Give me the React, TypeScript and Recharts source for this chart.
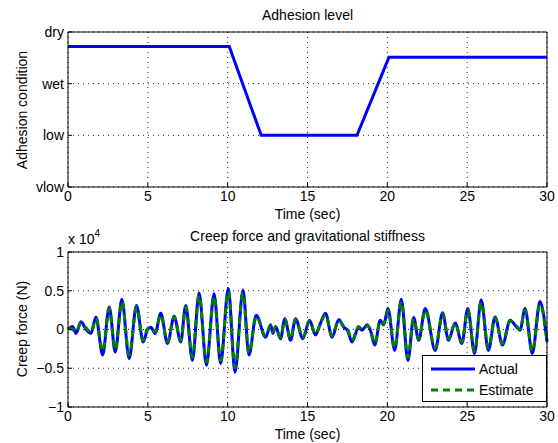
import React from 'react';
import { LineChart, Line, XAxis, YAxis, CartesianGrid } from 'recharts';

// ---------- data ----------
const adhesionTimes = [0, 10.1, 12.1, 18.1, 20.1, 30];
const adhesionLevels = [2.72, 2.72, 1, 1, 2.51, 2.51];
const adhesionTickLabels = ['vlow', 'low', 'wet', 'dry'];
const adhesionTicks = [0, 1, 2, 3];
const timeTicks = [0, 5, 10, 15, 20, 25, 30];
const forceTicks = [-1, -0.5, 0, 0.5, 1];

const creepTimes = [
  0, 0.29, 0.5, 0.81, 1.13, 1.44, 1.75, 2.17, 2.58, 2.96, 3.375, 3.83, 4.29, 4.71, 4.98, 5.19, 5.46,
  5.81, 6.23, 6.65, 7.06, 7.375, 7.79, 8.21, 8.67, 9.15, 9.56, 10.04, 10.46, 10.96, 11.33, 11.79,
  12.375, 12.69, 12.83, 13.0, 13.31, 13.58, 13.94, 14.25, 14.71, 15.125, 15.5, 15.81, 16.125, 16.54,
  16.96, 17.27, 17.5, 17.79, 18.2, 18.42, 18.73, 18.94, 19.21, 19.56, 19.77, 20.04, 20.46, 20.875,
  21.29, 21.65, 21.96, 22.375, 23.0, 23.46, 23.83, 24.25, 24.67, 25.04, 25.46, 25.875, 26.33, 26.75,
  27.21, 27.69, 28.1, 28.31, 28.625, 29.08, 29.56, 30,
];
const creepActual = [
  0, 0.04, -0.05, 0.1, 0.0, -0.05, 0.16, -0.33, 0.29, -0.29, 0.39, -0.375, 0.31, -0.16, 0.0, 0.03, -0.05,
  0.21, -0.18, 0.17, -0.16, 0.31, -0.4, 0.47, -0.46, 0.46, -0.44, 0.53, -0.55, 0.51, -0.33, 0.185,
  -0.1, 0.06, -0.05, 0.04, -0.12, 0.14, -0.14, 0.14, -0.12, 0.12, -0.07, 0.08, 0.21, -0.1,
  0.13, 0.03, -0.01, -0.16, 0.03, -0.01, 0.06, -0.01, -0.2, 0.12, 0.06, 0.27, -0.27, 0.39,
  -0.4, 0.155, -0.14, 0.27, -0.27, 0.215, -0.14, 0.085, -0.18, 0.27, -0.31, 0.38, -0.27, 0.16,
  -0.2, 0.12, 0.03, -0.01, 0.27, -0.31, 0.36, -0.16,
];
const creepEstimate = [
  0.02, 0.0, -0.03, 0.08, 0.02, -0.04, 0.14, -0.28, 0.27, -0.26, 0.36, -0.33, 0.29, -0.14, 0.01, 0.03, -0.03,
  0.19, -0.16, 0.16, -0.14, 0.29, -0.36, 0.44, -0.42, 0.43, -0.4, 0.49, -0.49, 0.47, -0.3, 0.17,
  -0.08, 0.05, -0.03, 0.03, -0.1, 0.13, -0.12, 0.13, -0.1, 0.11, -0.06, 0.08, 0.19, -0.08,
  0.12, 0.04, 0.01, -0.14, 0.04, 0.0, 0.05, 0.0, -0.18, 0.11, 0.07, 0.25, -0.24, 0.36,
  -0.36, 0.14, -0.12, 0.25, -0.24, 0.2, -0.12, 0.08, -0.16, 0.25, -0.28, 0.35, -0.24, 0.15,
  -0.18, 0.11, 0.04, 0.0, 0.25, -0.28, 0.33, -0.14,
];

const adhesionData = adhesionTimes.map((t, i) => ({ t, v: adhesionLevels[i] }));
const creepData = creepTimes.map((t, i) => ({ t, actual: creepActual[i], estimate: creepEstimate[i] }));

// ---------- styles ----------
const FONT = '"Liberation Sans", Arial, Helvetica, sans-serif';
const FS = 14;
const tickStyle = { fill: '#000', fontSize: FS, fontFamily: FONT };
const axisLine = { stroke: '#000', strokeWidth: 1 };
const BLUE = '#0000ff';
const GREEN = '#008000';

const fmtForce = (v: number) => (v < 0 ? '\u2212' + Math.abs(v) : String(v));

function CenterText(props: { x: number; y: number; text: React.ReactNode; rotate?: boolean; size?: number }) {
  const { x, y, text, rotate, size } = props;
  return (
    <div
      style={{
        position: 'absolute',
        left: x,
        top: y,
        transform: `translate(-50%, -50%)${rotate ? ' rotate(-90deg)' : ''}`,
        whiteSpace: 'nowrap',
        fontSize: size || FS,
        lineHeight: 1,
        fontFamily: FONT,
        color: '#000',
      }}
    >
      {text}
    </div>
  );
}

export default function App() {
  return (
    <div style={{ position: 'absolute', left: 0, top: 0, width: 558, height: 443, background: '#fff', overflow: 'hidden' }}>
      {/* Top chart */}
      <div style={{ position: 'absolute', left: 0, top: 0 }}>
        <LineChart width={558} height={215} data={adhesionData} margin={{ top: 31, right: 10, bottom: 27, left: 67 }}>
          <CartesianGrid stroke="#222" strokeDasharray="1 4" />
          <XAxis dataKey="t" type="number" domain={[0, 30]} ticks={timeTicks} interval={0} height={1}
            tickSize={-4} tickMargin={8} tick={tickStyle} axisLine={axisLine} tickLine={axisLine} />
          <XAxis xAxisId="top" orientation="top" dataKey="t" type="number" domain={[0, 30]} ticks={timeTicks} interval={0} height={1}
            tickSize={-4} tick={false} axisLine={axisLine} tickLine={axisLine} />
          <YAxis type="number" domain={[0, 3]} ticks={adhesionTicks} interval={0} width={1}
            tickSize={-4} tickMargin={8} tick={tickStyle} axisLine={axisLine} tickLine={axisLine}
            tickFormatter={(v: number) => adhesionTickLabels[v]} />
          <YAxis yAxisId="right" orientation="right" type="number" domain={[0, 3]} ticks={adhesionTicks} interval={0} width={1}
            tickSize={-4} tick={false} axisLine={axisLine} tickLine={axisLine} />
          <Line type="linear" dataKey="v" stroke={BLUE} strokeWidth={3} dot={false} isAnimationActive={false} />
        </LineChart>
      </div>

      {/* Bottom chart */}
      <div style={{ position: 'absolute', left: 0, top: 215 }}>
        <LineChart width={558} height={228} data={creepData} margin={{ top: 36, right: 10, bottom: 35, left: 67 }}>
          <CartesianGrid stroke="#222" strokeDasharray="1 4" />
          <XAxis dataKey="t" type="number" domain={[0, 30]} ticks={timeTicks} interval={0} height={1}
            tickSize={-4} tickMargin={8} tick={tickStyle} axisLine={axisLine} tickLine={axisLine} />
          <XAxis xAxisId="top" orientation="top" dataKey="t" type="number" domain={[0, 30]} ticks={timeTicks} interval={0} height={1}
            tickSize={-4} tick={false} axisLine={axisLine} tickLine={axisLine} />
          <YAxis type="number" domain={[-1, 1]} ticks={forceTicks} interval={0} width={1}
            tickSize={-4} tickMargin={8} tick={tickStyle} axisLine={axisLine} tickLine={axisLine}
            tickFormatter={fmtForce} />
          <YAxis yAxisId="right" orientation="right" type="number" domain={[-1, 1]} ticks={forceTicks} interval={0} width={1}
            tickSize={-4} tick={false} axisLine={axisLine} tickLine={axisLine} />
          <Line type="monotone" dataKey="actual" stroke={BLUE} strokeWidth={3} dot={false} isAnimationActive={false} />
          <Line type="monotone" dataKey="estimate" stroke={GREEN} strokeWidth={3} strokeDasharray="7 5" dot={false} isAnimationActive={false} />
        </LineChart>
      </div>

      {/* Texts */}
      <CenterText x={307.5} y={15} text="Adhesion level" />
      <CenterText x={307.5} y={214} text="Time (sec)" />
      <CenterText x={22} y={110} text="Adhesion condition" rotate />
      <CenterText x={307.5} y={236} text="Creep force and gravitational stiffness" />
      <CenterText x={307.5} y={434} text="Time (sec)" />
      <CenterText x={22} y={329} text="Creep force (N)" rotate />
      <div style={{ position: 'absolute', left: 68, top: 232, fontFamily: FONT, fontSize: FS, lineHeight: 1, whiteSpace: 'nowrap' }}>
        x 10<sup style={{ fontSize: 10, verticalAlign: 'top', position: 'relative', top: -3 }}>4</sup>
      </div>

      {/* Legend */}
      <div style={{ position: 'absolute', left: 422, top: 355, width: 125, height: 47, boxSizing: 'border-box', border: '1px solid #000', background: '#fff', fontFamily: FONT, fontSize: FS }}>
        <svg width={125} height={47} style={{ position: 'absolute', left: -1, top: -1 }}>
          <line x1={9} x2={53} y1={14} y2={14} stroke={BLUE} strokeWidth={3} />
          <line x1={9} x2={53} y1={35} y2={35} stroke={GREEN} strokeWidth={3} strokeDasharray="7 5" />
        </svg>
        <div style={{ position: 'absolute', left: 56, top: 13, transform: 'translateY(-50%)', lineHeight: 1 }}>Actual</div>
        <div style={{ position: 'absolute', left: 56, top: 34, transform: 'translateY(-50%)', lineHeight: 1 }}>Estimate</div>
      </div>
    </div>
  );
}
